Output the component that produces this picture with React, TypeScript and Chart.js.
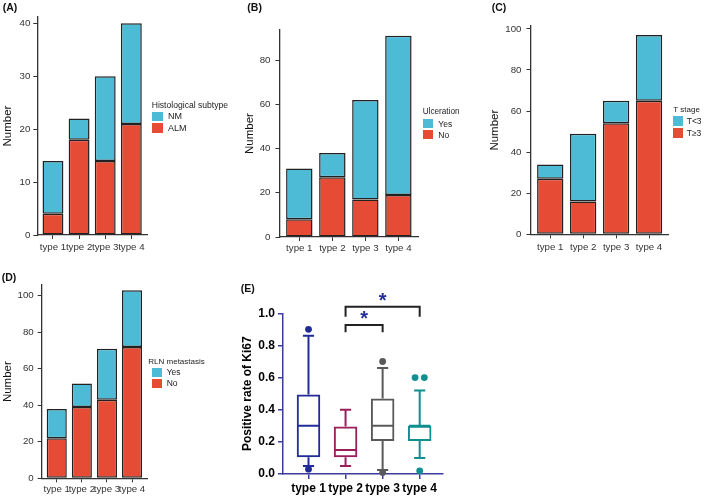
import React, { useEffect, useRef } from 'react';
import { Chart, registerables } from 'chart.js';

Chart.register(...registerables);

const FONT = "'Liberation Sans', Arial, Helvetica, sans-serif";
Chart.defaults.font.family = FONT;

// ---------------- data ----------------
const categories = ['type 1', 'type 2', 'type 3', 'type 4'];

const histoALM = [4, 18, 14, 21];
const histoNM = [10, 4, 16, 19];

const ulcerNo = [8, 27, 17, 19];
const ulcerYes = [23, 11, 45, 72];

const tStageGE3 = [27, 16, 54, 65];
const tStageLT3 = [7, 33, 11, 32];

const rlnNo = [22, 39, 43, 72];
const rlnYes = [16, 13, 28, 31];

const ticksA = [0, 10, 20, 30, 40];
const ticksB = [0, 20, 40, 60, 80];
const ticksC = [0, 20, 40, 60, 80, 100];
const ticksD = [0, 20, 40, 60, 80, 100];

const ki67Min = [0.05, 0.05, 0.025, 0.1];
const ki67Q1 = [0.105, 0.105, 0.205, 0.205];
const ki67Median = [0.3, 0.15, 0.3, 0.3];
const ki67Q3 = [0.495, 0.295, 0.47, 0.3];
const ki67Max = [0.86, 0.4, 0.66, 0.52];
const ki67Outliers = [[0.9, 0.03], [], [0.7, 0.01], [0.6, 0.6, 0.02]];
const ki67Ticks = [0, 0.2, 0.4, 0.6, 0.8, 1.0];
const comparisons = [
  { from: 2, to: 3, label: '*' },
  { from: 2, to: 4, label: '*' },
];
const bracketLevels = [0.927, 1.04];
const bracketDrops = [0.045, 0.062];

// ---------------- styles ----------------
const CYAN = '#4DBBD5';
const RED = '#E64B35';
const EDGE = '#222222';
const AXIS = '#333333';
const TICKTXT = '#333333';
const boxColors = ['#222c96', '#9a1f5b', '#595959', '#0f8f8f'];
const E_AXIS = '#3c3c9e';
const STAR = '#232d95';

type Box = { x: number; y: number; w: number; h: number };
type Area = { l: number; t: number; r: number; b: number };

type StackCfg = {
  box: Box;
  area: Area;
  yMax: number;
  titlePad: number;
  yTickPad: number;
  xTickPad: number;
};

const cfgA: StackCfg = { box: { x: 0, y: 0, w: 162, h: 258 }, area: { l: 37.3, t: 17, r: 147, b: 235 }, yMax: 41.2, titlePad: 0.8, yTickPad: 3, xTickPad: 3 };
const cfgB: StackCfg = { box: { x: 243, y: 0, w: 190, h: 258 }, area: { l: 279.5, t: 30, r: 418.2, b: 237 }, yMax: 93.6, titlePad: 0.1, yTickPad: 5, xTickPad: 2 };
const cfgC: StackCfg = { box: { x: 488, y: 0, w: 195, h: 258 }, area: { l: 530.5, t: 26, r: 668.8, b: 234.3 }, yMax: 101.4, titlePad: 0.1, yTickPad: 5, xTickPad: 3 };
const cfgD: StackCfg = { box: { x: 0, y: 262, w: 162, h: 238 }, area: { l: 41.7, t: 285, r: 147.1, b: 478.3 }, yMax: 105.9, titlePad: 1.4, yTickPad: 4, xTickPad: 1 };

function StackPanel({ cfg, bottom, top, names, yTicks }: { cfg: StackCfg; bottom: number[]; top: number[]; names: [string, string]; yTicks: number[] }) {
  const ref = useRef<HTMLCanvasElement>(null);
  useEffect(() => {
    const { box, area } = cfg;
    const yW = area.l - box.x;
    const xH = box.y + box.h - area.b;
    const tickFont = { family: FONT, size: 9.7 };
    const barCommon = {
      borderColor: EDGE,
      borderWidth: 1.5,
      borderSkipped: false as const,
      categoryPercentage: 0.8,
      barPercentage: 1,
    };
    const chart = new Chart(ref.current!, {
      type: 'bar',
      data: {
        datasets: [
          { ...barCommon, label: names[1], data: bottom.map((v, i) => ({ x: i + 1, y: v })), backgroundColor: RED },
          { ...barCommon, label: names[0], data: top.map((v, i) => ({ x: i + 1, y: v })), backgroundColor: CYAN },
        ],
      } as any,
      options: {
        responsive: false,
        animation: false,
        events: [],
        layout: { padding: { top: area.t - box.y, right: box.x + box.w - area.r, left: 0, bottom: 0 } },
        plugins: { legend: { display: false }, tooltip: { enabled: false } },
        scales: {
          x: {
            type: 'linear',
            offset: false,
            stacked: true,
            min: 0.4,
            max: 4.6,
            afterBuildTicks: (s: any) => {
              s.ticks = categories.map((_, i) => ({ value: i + 1 }));
            },
            afterFit: (s: any) => {
              s.height = xH;
            },
            ticks: {
              callback: (v: any) => categories[Math.round(Number(v)) - 1] ?? '',
              autoSkip: false,
              maxRotation: 0,
              minRotation: 0,
              padding: cfg.xTickPad,
              font: tickFont,
              color: TICKTXT,
            },
            grid: { offset: false, drawOnChartArea: false, drawTicks: true, tickLength: 4, color: AXIS, lineWidth: 1 },
            border: { display: true, color: AXIS, width: 1.3 },
          },
          y: {
            type: 'linear',
            stacked: true,
            min: 0,
            max: cfg.yMax,
            afterBuildTicks: (s: any) => {
              s.ticks = yTicks.map((v) => ({ value: v }));
            },
            afterFit: (s: any) => {
              s.width = yW;
            },
            ticks: { padding: cfg.yTickPad, font: tickFont, color: TICKTXT },
            grid: { drawOnChartArea: false, drawTicks: true, tickLength: 4, color: AXIS, lineWidth: 1 },
            border: { display: true, color: AXIS, width: 1.3 },
            title: {
              display: true,
              text: 'Number',
              color: '#111',
              font: { family: FONT, size: 11.5 },
              padding: { top: cfg.titlePad, bottom: 0 },
            },
          },
        },
      } as any,
    });
    return () => chart.destroy();
  }, []);
  const { box } = cfg;
  return (
    <canvas
      ref={ref}
      width={box.w}
      height={box.h}
      style={{ position: 'absolute', left: box.x, top: box.y, width: box.w, height: box.h }}
    />
  );
}

// ---------------- box plot (E) ----------------
const eBox: Box = { x: 240, y: 280, w: 215, h: 220 };
const eArea: Area = { l: 283, t: 313.3, r: 443, b: 474 };
const capWidth = 0.3;

const boxPlotPlugin = {
  id: 'ki67BoxPlot',
  afterDatasetsDraw(chart: any) {
    const { ctx } = chart;
    const xs = chart.scales.x;
    const ys = chart.scales.y;
    const meta = chart.getDatasetMeta(0);
    ctx.save();
    ctx.lineWidth = 2;
    ctx.lineCap = 'butt';
    const capHalf = (xs.getPixelForValue(1 + capWidth / 2) - xs.getPixelForValue(1));
    meta.data.forEach((el: any, i: number) => {
      const { x: cx, width } = el.getProps(['x', 'width'], true);
      ctx.strokeStyle = boxColors[i];
      const yMed = ys.getPixelForValue(ki67Median[i]);
      const yQ1 = ys.getPixelForValue(ki67Q1[i]);
      const yQ3 = ys.getPixelForValue(ki67Q3[i]);
      const yLo = ys.getPixelForValue(ki67Min[i]);
      const yHi = ys.getPixelForValue(ki67Max[i]);
      ctx.beginPath();
      ctx.moveTo(cx - width / 2 + 1, yMed);
      ctx.lineTo(cx + width / 2 - 1, yMed);
      ctx.moveTo(cx, yQ3);
      ctx.lineTo(cx, yHi);
      ctx.moveTo(cx, yQ1);
      ctx.lineTo(cx, yLo);
      ctx.moveTo(cx - capHalf, yHi);
      ctx.lineTo(cx + capHalf, yHi);
      ctx.moveTo(cx - capHalf, yLo);
      ctx.lineTo(cx + capHalf, yLo);
      ctx.stroke();
    });
    // significance brackets
    comparisons.forEach((c, k) => {
      const x1 = xs.getPixelForValue(c.from);
      const x2 = xs.getPixelForValue(c.to);
      const yl = ys.getPixelForValue(bracketLevels[k]);
      const yd = ys.getPixelForValue(bracketLevels[k] - bracketDrops[k]);
      ctx.strokeStyle = '#222';
      ctx.lineWidth = 2;
      ctx.beginPath();
      ctx.moveTo(x1, yd);
      ctx.lineTo(x1, yl);
      ctx.lineTo(x2, yl);
      ctx.lineTo(x2, yd);
      ctx.stroke();
      ctx.fillStyle = STAR;
      ctx.font = `bold 20px ${FONT}`;
      ctx.textAlign = 'center';
      ctx.textBaseline = 'alphabetic';
      const m = ctx.measureText(c.label);
      const cy = yl - 10;
      const glyphMid = (m.actualBoundingBoxAscent - m.actualBoundingBoxDescent) / 2;
      ctx.fillText(c.label, (x1 + x2) / 2, cy + glyphMid);
    });
    ctx.restore();
  },
};

function outlierPoints() {
  const pts: { x: number; y: number; c: string }[] = [];
  ki67Outliers.forEach((vals, g) => {
    vals.forEach((v, j) => {
      const same = vals.filter((w) => w === v);
      const idx = vals.slice(0, j).filter((w) => w === v).length;
      const off = same.length > 1 ? (idx - (same.length - 1) / 2) * 0.25 : 0;
      pts.push({ x: g + 1 + off, y: v, c: boxColors[g] });
    });
  });
  return pts;
}

function BoxPanel() {
  const ref = useRef<HTMLCanvasElement>(null);
  useEffect(() => {
    const yW = eArea.l - eBox.x;
    const xH = eBox.y + eBox.h - eArea.b;
    const pts = outlierPoints();
    const boldTick = { family: FONT, size: 12, weight: 'bold' as const };
    const chart = new Chart(ref.current!, {
      type: 'bar',
      data: {
        datasets: [
          {
            type: 'bar',
            data: categories.map((_, i) => ({ x: i + 1, y: [ki67Q1[i], ki67Q3[i]] })),
            backgroundColor: 'rgba(255,255,255,0)',
            borderColor: boxColors,
            borderWidth: 2,
            borderSkipped: false,
            categoryPercentage: 1,
            barPercentage: 0.635,
          },
          {
            type: 'scatter',
            data: pts.map((p) => ({ x: p.x, y: p.y })),
            pointBackgroundColor: pts.map((p) => p.c),
            pointBorderColor: pts.map((p) => p.c),
            pointBorderWidth: 0,
            pointRadius: 3.4,
            clip: false,
          },
        ],
      } as any,
      options: {
        responsive: false,
        animation: false,
        events: [],
        layout: { padding: { top: eArea.t - eBox.y, right: eBox.x + eBox.w - eArea.r, left: 0, bottom: 0 } },
        plugins: { legend: { display: false }, tooltip: { enabled: false } },
        scales: {
          x: {
            type: 'linear',
            offset: false,
            min: 0.312,
            max: 4.629,
            afterBuildTicks: (s: any) => {
              s.ticks = categories.map((_, i) => ({ value: i + 1 }));
            },
            afterFit: (s: any) => {
              s.height = xH;
            },
            ticks: {
              callback: (v: any) => categories[Math.round(Number(v)) - 1] ?? '',
              autoSkip: false,
              maxRotation: 0,
              minRotation: 0,
              padding: 2.4,
              font: boldTick,
              color: '#000',
            },
            grid: { offset: false, drawOnChartArea: false, drawTicks: true, tickLength: 5, color: E_AXIS, lineWidth: 1.5 },
            border: { display: true, color: E_AXIS, width: 1.5 },
          },
          y: {
            type: 'linear',
            min: 0,
            max: 1,
            afterBuildTicks: (s: any) => {
              s.ticks = ki67Ticks.map((v) => ({ value: v }));
            },
            afterFit: (s: any) => {
              s.width = yW;
            },
            ticks: {
              callback: (v: any) => Number(v).toFixed(1),
              padding: 3,
              font: boldTick,
              color: '#000',
            },
            grid: { drawOnChartArea: false, drawTicks: true, tickLength: 5, color: E_AXIS, lineWidth: 1.5 },
            border: { display: true, color: E_AXIS, width: 1.5 },
            title: {
              display: true,
              text: 'Positive rate of Ki67',
              color: '#000',
              font: { family: FONT, size: 12, weight: 'bold' },
              padding: { top: 0, bottom: 0 },
            },
          },
        },
      } as any,
      plugins: [boxPlotPlugin],
    });
    return () => chart.destroy();
  }, []);
  return (
    <canvas
      ref={ref}
      width={eBox.w}
      height={eBox.h}
      style={{ position: 'absolute', left: eBox.x, top: eBox.y, width: eBox.w, height: eBox.h }}
    />
  );
}

// ---------------- html text bits ----------------
function PanelLabel({ text, x, y }: { text: string; x: number; y: number }) {
  return (
    <div style={{ position: 'absolute', left: x, top: y, fontSize: 10.5, lineHeight: '10.5px', fontWeight: 'bold', color: '#111', whiteSpace: 'nowrap' }}>
      {text}
    </div>
  );
}

type LegendCfg = {
  title: string;
  titleX: number;
  titleCY: number;
  titleSize: number;
  keyX: number;
  keyW: number;
  keyH: number;
  keyTops: number[];
  labelX: number;
  labelSize: number;
  labels: string[];
};

function Legend({ cfg }: { cfg: LegendCfg }) {
  const colors = [CYAN, RED];
  return (
    <>
      <div style={{ position: 'absolute', left: cfg.titleX, top: cfg.titleCY - cfg.titleSize / 2, fontSize: cfg.titleSize, lineHeight: `${cfg.titleSize}px`, color: '#222', whiteSpace: 'nowrap' }}>
        {cfg.title}
      </div>
      {cfg.labels.map((lab, i) => (
        <React.Fragment key={lab}>
          <div style={{ position: 'absolute', left: cfg.keyX, top: cfg.keyTops[i], width: cfg.keyW, height: cfg.keyH, background: colors[i] }} />
          <div style={{ position: 'absolute', left: cfg.labelX, top: cfg.keyTops[i] + cfg.keyH / 2 - cfg.labelSize / 2, fontSize: cfg.labelSize, lineHeight: `${cfg.labelSize}px`, color: '#222', whiteSpace: 'nowrap' }}>
            {lab}
          </div>
        </React.Fragment>
      ))}
    </>
  );
}

const legendA: LegendCfg = { title: 'Histological subtype', titleX: 151.7, titleCY: 105, titleSize: 8.6, keyX: 151.7, keyW: 11, keyH: 9.5, keyTops: [111.5, 123.3], labelX: 168, labelSize: 9, labels: ['NM', 'ALM'] };
const legendB: LegendCfg = { title: 'Ulceration', titleX: 422.7, titleCY: 111.7, titleSize: 8.2, keyX: 423.3, keyW: 10, keyH: 9, keyTops: [119.3, 130.3], labelX: 438.3, labelSize: 8.5, labels: ['Yes', 'No'] };
const legendC: LegendCfg = { title: 'T stage', titleX: 673.3, titleCY: 110, titleSize: 8, keyX: 673.3, keyW: 10, keyH: 10, keyTops: [116, 128], labelX: 686.7, labelSize: 8.5, labels: ['T<3', 'T≥3'] };
const legendD: LegendCfg = { title: 'RLN metastasis', titleX: 148.3, titleCY: 361.7, titleSize: 8, keyX: 151.7, keyW: 10, keyH: 9.3, keyTops: [368, 379], labelX: 166.7, labelSize: 8.5, labels: ['Yes', 'No'] };

export default function App() {
  return (
    <div style={{ position: 'fixed', left: 0, top: 0, width: 709, height: 500, background: '#fff', overflow: 'hidden', fontFamily: FONT }}>
      <StackPanel cfg={cfgA} bottom={histoALM} top={histoNM} names={['NM', 'ALM']} yTicks={ticksA} />
      <StackPanel cfg={cfgB} bottom={ulcerNo} top={ulcerYes} names={['Yes', 'No']} yTicks={ticksB} />
      <StackPanel cfg={cfgC} bottom={tStageGE3} top={tStageLT3} names={['T<3', 'T≥3']} yTicks={ticksC} />
      <StackPanel cfg={cfgD} bottom={rlnNo} top={rlnYes} names={['Yes', 'No']} yTicks={ticksD} />
      <BoxPanel />
      <Legend cfg={legendA} />
      <Legend cfg={legendB} />
      <Legend cfg={legendC} />
      <Legend cfg={legendD} />
      <PanelLabel text="(A)" x={2.7} y={2.3} />
      <PanelLabel text="(B)" x={247.3} y={2.3} />
      <PanelLabel text="(C)" x={491.7} y={2.3} />
      <PanelLabel text="(D)" x={1.7} y={271.5} />
      <PanelLabel text="(E)" x={240.7} y={282.5} />
    </div>
  );
}
